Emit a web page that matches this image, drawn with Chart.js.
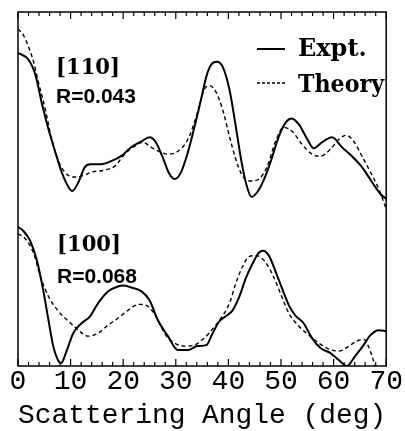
<!DOCTYPE html>
<html>
<head>
<meta charset="utf-8">
<script src="https://cdn.jsdelivr.net/npm/chart.js@4/dist/chart.umd.min.js"></script>
<style>
  html, body { margin: 0; padding: 0; background: #fff; }
  #plot { display: block; }
</style>
</head>
<body>
<canvas id="plot" width="405" height="431"></canvas>
<script>
// [110] curves (upper pair) – intensity in arbitrary units, offset upward
const expt110Angle = [0, 2.0, 3.3, 4.5, 5.8, 7.1, 8.3, 9.6, 10.3, 11.5, 12.7, 13.7, 15.8, 17.7, 19.6, 21.5, 23.5, 25.0, 26.2, 27.5, 28.8, 29.8, 31.0, 32.3, 33.9, 35.1, 35.8, 36.7, 37.8, 38.9, 40.2, 41.4, 42.4, 43.3, 44.4, 45.5, 46.8, 48.0, 49.6, 50.9, 52.0, 53.4, 55.0, 56.2, 57.8, 59.7, 61.6, 63.5, 65.4, 67.3, 68.9, 70];
const expt110 = [315, 308, 293, 265, 238, 215, 195, 180, 176, 185, 200, 203, 203, 206, 211, 220, 226, 230, 225, 210, 193, 188, 195, 215, 248, 275, 291, 303, 306, 301, 278, 241, 208, 185, 170, 175, 188, 205, 231, 245, 249, 243, 228, 219, 225, 230, 220, 211, 200, 185, 173, 168];
const theory110Angle = [0, 1.0, 2.0, 3.0, 3.9, 5.2, 6.4, 7.7, 8.9, 10.5, 12.1, 14.0, 16.5, 18.4, 20.3, 22.2, 23.7, 25.3, 27.2, 28.5, 30.4, 32.3, 33.9, 35.4, 36.4, 37.6, 38.9, 40.2, 41.4, 42.7, 44.3, 45.8, 47.4, 48.9, 50.5, 52.1, 54.0, 55.9, 57.5, 59.4, 61.0, 62.4, 63.8, 65.4, 67.0, 68.6, 70];
const theory110 = [339, 333, 321, 305, 285, 258, 228, 206, 195, 190, 191, 195, 197, 201, 213, 221, 225, 220, 215, 213, 216, 228, 251, 278, 282, 276, 258, 231, 208, 191, 186, 188, 201, 225, 240, 236, 223, 213, 211, 218, 228, 232, 226, 211, 195, 178, 158];

// [100] curves (lower pair)
const expt100Angle = [0, 1.0, 2.3, 3.6, 4.8, 5.8, 6.7, 7.7, 8.2, 9.3, 10.5, 12.1, 13.7, 15.2, 17.1, 19.0, 20.0, 21.5, 23.5, 25.0, 26.6, 28.5, 30.4, 32.3, 34.1, 35.8, 37.0, 38.3, 39.5, 40.8, 42.1, 43.3, 44.6, 45.8, 46.6, 47.7, 48.9, 50.2, 51.5, 52.7, 54.3, 55.9, 57.5, 59.4, 61.0, 62.5, 64.1, 65.7, 67.0, 68.6, 70];
const expt100 = [140, 136, 126, 106, 76, 46, 20, 5, 3, 16, 33, 43, 50, 63, 75, 80, 81, 79, 75, 66, 46, 30, 16, 16, 20, 21, 33, 45, 50, 56, 70, 88, 103, 114, 116, 111, 96, 78, 61, 51, 43, 28, 18, 13, 6, 0, 10, 21, 31, 36, 35];
const theory100Angle = [0, 1.4, 3.0, 4.2, 5.8, 7.7, 9.6, 11.5, 13.3, 15.2, 17.1, 19.0, 20.9, 23.1, 24.7, 26.2, 28.1, 29.8, 31.7, 33.5, 35.4, 36.3, 38.3, 40.2, 41.4, 42.7, 43.9, 45.3, 46.8, 48.3, 49.9, 51.5, 53.4, 55.3, 57.2, 59.1, 61.0, 62.9, 64.4, 65.7, 66.6, 67.3, 67.9];
const theory100 = [133, 128, 113, 91, 70, 55, 45, 36, 30, 33, 41, 48, 56, 62, 60, 50, 31, 23, 20, 21, 28, 33, 46, 63, 83, 100, 110, 111, 106, 93, 73, 53, 40, 31, 23, 17, 15, 20, 25, 27, 20, 10, 0];

const xMin = 0, xMax = 70, xMajor = 10, xMinor = 2;
const yMin = 0, yMax = 356;

const pts = (xs, ys) => xs.map((x, i) => ({x, y: ys[i]}));

const solid = {borderColor: '#000', borderWidth: 2, pointRadius: 0, fill: false, cubicInterpolationMode: 'monotone'};
const dashed = {borderColor: '#000', borderWidth: 1.4, borderDash: [4, 3], pointRadius: 0, fill: false, cubicInterpolationMode: 'monotone'};

// box, inward ticks, legend and panel labels
const decorations = {
  id: 'decorations',
  afterDatasetsDraw(chart) {
    const {ctx, chartArea: a, scales: {x}} = chart;
    ctx.save();
    ctx.strokeStyle = '#000';
    ctx.lineWidth = 1.5;
    ctx.strokeRect(a.left, a.top, a.right - a.left, a.bottom - a.top);
    ctx.lineWidth = 1.2;
    for (let t = xMin; t <= xMax; t += xMinor) {
      const px = x.getPixelForValue(t);
      const len = t % xMajor === 0 ? 7 : 4;
      ctx.beginPath();
      ctx.moveTo(px, a.bottom); ctx.lineTo(px, a.bottom - len);
      ctx.moveTo(px, a.top); ctx.lineTo(px, a.top + len);
      ctx.stroke();
    }

    // legend
    ctx.lineWidth = 2;
    ctx.beginPath(); ctx.moveTo(257, 49); ctx.lineTo(285, 49); ctx.stroke();
    ctx.lineWidth = 1.4;
    ctx.setLineDash([3, 2]);
    ctx.beginPath(); ctx.moveTo(257, 83); ctx.lineTo(285, 83); ctx.stroke();
    ctx.setLineDash([]);

    ctx.fillStyle = '#000';
    ctx.textBaseline = 'alphabetic';
    ctx.textAlign = 'left';
    ctx.font = 'bold 24px "DejaVu Serif"';
    ctx.fillText('Expt.', 298, 56, 69);
    ctx.fillText('Theory', 298, 92, 86);

    ctx.font = 'bold 23px "DejaVu Serif"';
    ctx.fillText('[110]', 56, 74, 64);
    ctx.fillText('[100]', 57, 251, 64);
    ctx.font = 'bold 21px "Liberation Sans"';
    ctx.fillText('R=0.043', 56, 103, 84);
    ctx.fillText('R=0.068', 57, 283, 84);
    ctx.restore();
  }
};

new Chart(document.getElementById('plot'), {
  type: 'line',
  data: {
    datasets: [
      {label: 'Expt. [110]', data: pts(expt110Angle, expt110), ...solid},
      {label: 'Theory [110]', data: pts(theory110Angle, theory110), ...dashed},
      {label: 'Expt. [100]', data: pts(expt100Angle, expt100), ...solid},
      {label: 'Theory [100]', data: pts(theory100Angle, theory100), ...dashed}
    ]
  },
  options: {
    responsive: false,
    animation: false,
    devicePixelRatio: 1,
    layout: {padding: {left: 18, right: 17, top: 12, bottom: 1}},
    plugins: {legend: {display: false}, tooltip: {enabled: false}},
    scales: {
      x: {
        type: 'linear', min: xMin, max: xMax,
        grid: {display: false, drawTicks: false},
        border: {display: false},
        ticks: {stepSize: xMajor, color: '#000', padding: 2, font: {family: '"Liberation Mono"', size: 28, lineHeight: 1}},
        title: {display: true, text: 'Scattering Angle (deg)', color: '#000', padding: {top: 4, bottom: 0}, font: {family: '"Liberation Mono"', size: 28, lineHeight: 1}}
      },
      y: {type: 'linear', min: yMin, max: yMax, display: false}
    }
  },
  plugins: [decorations]
});
</script>
</body>
</html>
